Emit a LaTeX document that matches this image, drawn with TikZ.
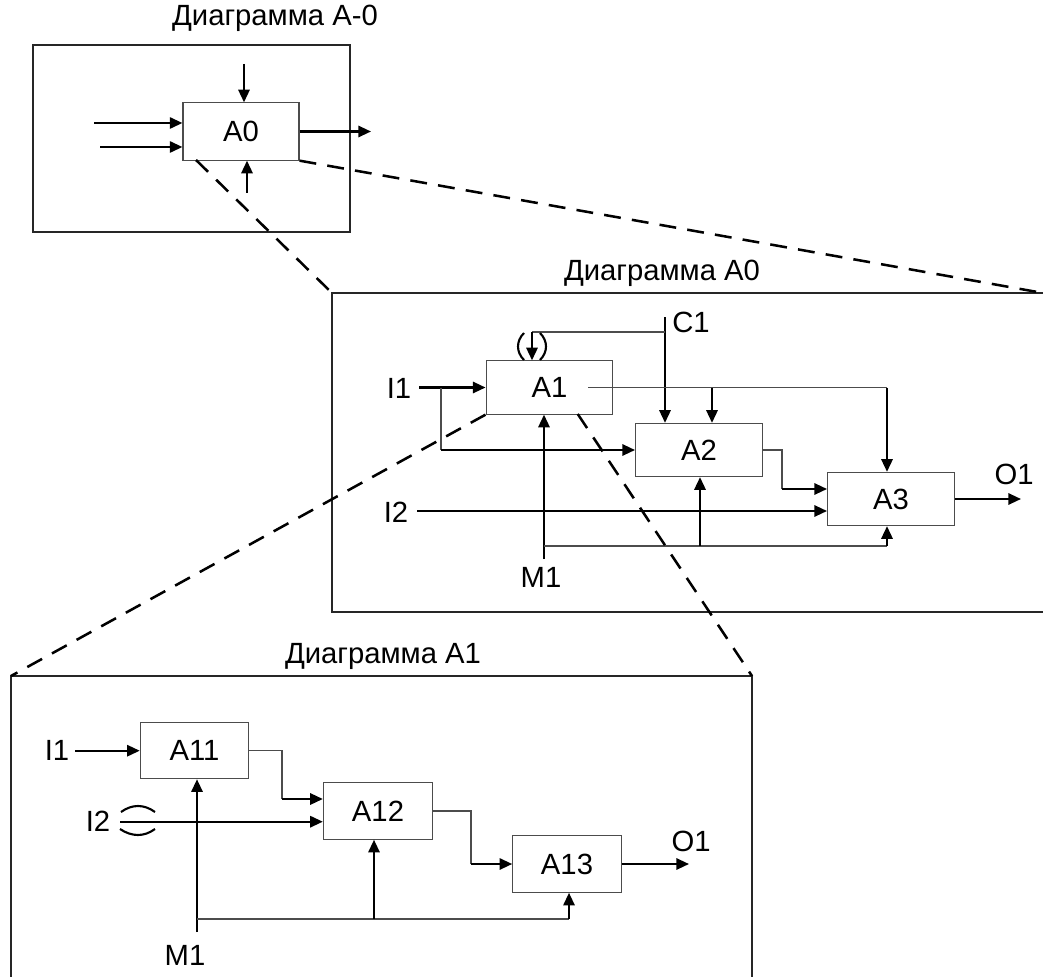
\documentclass[tikz,border=0pt]{standalone}
\usepackage{fontspec}
\setmainfont{Liberation Sans}
\usetikzlibrary{
  arrows.meta,
  positioning,
  calc
}

\tikzset{
  func/.style={draw=black!70, line width=0.8pt, fill=white, inner sep=0pt,
    minimum width=3.17cm, minimum height=1.33cm, font=\fontsize{20.8}{25}\selectfont},
  lbl/.style={font=\fontsize{20.8}{25}\selectfont, inner sep=0pt},
  frame/.style={draw=black!85, line width=1pt},
  thinline/.style={draw=black!70, line width=0.8pt},
  flow/.style={line width=1.6pt, -{Triangle[length=9pt,width=8pt]}},
  zoomline/.style={line width=1.8pt, dash pattern=on 12pt off 8pt},
  tunnel/.style={line width=1.5pt}
}

\begin{document}
\begin{tikzpicture}[x=0.025cm, y=-0.025cm]
    \useasboundingbox (0,0) rectangle (1043,977);

    % Рамки диаграмм
    \draw[frame] (33,45) rectangle (350,232);
    \draw[frame] (1043,293) -- (332,293) -- (332,612) -- (1043,612);
    \draw[frame] (11,977) -- (11,676) -- (752,676) -- (752,977);
    \node[lbl] (t0) at (275,18) {Диаграмма A-0};
    \node[lbl] (t1) at (662,273) {Диаграмма A0};
    \node[lbl] (t2) at (383,656) {Диаграмма A1};

    % Диаграмма A-0
    \node[func, minimum width=2.9cm, minimum height=1.43cm] (a0) at (241,131.5) {A0};
    \coordinate (a0in1) at (94,123);
    \coordinate (a0in2) at (100,147);
    \coordinate (a0ctl) at (244,64);
    \coordinate (a0mech) at (247,193);
    \coordinate (a0out) at (371,131.5);
    \draw[flow] (a0in1) -- (a0in1 -| a0.west);
    \draw[flow] (a0in2) -- (a0in2 -| a0.west);
    \draw[flow] (a0ctl) -- (a0ctl |- a0.north);
    \draw[flow] (a0mech) -- (a0mech |- a0.south);
    \draw[flow] (a0.east) -- (a0out);

    % Диаграмма A0
    \node[func] (a1) at (549.5,387.5) {A1};
    \node[func] (a2) at (699,450) {A2};
    \node[func] (a3) at (891,499) {A3};
    \node[lbl] (i1) at (399,388) {I1};
    \node[lbl] (i2) at (396,512) {I2};
    \node[lbl] (c1) at (691,322) {C1};
    \node[lbl] (m1) at (541,577.5) {M1};
    \node[lbl] (o1) at (1014,474) {O1};

    \coordinate (i1s) at (419,387.5);
    \coordinate (i1b) at (441,387.5);
    \draw[flow] (i1s) -- (a1.west);
    \draw[thinline] (i1b) -- (i1b |- a2.west);
    \draw[flow] (i1b |- a2.west) -- (a2.west);

    \coordinate (c1s) at (665,317);
    \coordinate (c1b) at (665,332);
    \coordinate (c1t) at (532,332);
    \draw[flow] (c1s) -- (c1s |- a2.north);
    \draw[thinline] (c1b) -- (c1t);
    \draw[flow] (c1t) -- (c1t |- a1.north);
    \draw[tunnel] (524,333) .. controls (516,341) and (516,352) .. (524,360);
    \draw[tunnel] (540,333) .. controls (548,341) and (548,352) .. (540,360);

    \coordinate (a1o) at (588,387.5);
    \coordinate (a1j) at (712,387.5);
    \coordinate (a1k) at (887,387.5);
    \draw[thinline] (a1o) -- (a1k);
    \draw[flow] (a1j) -- (a1j |- a2.north);
    \draw[flow] (a1k) -- (a1k |- a3.north);

    \coordinate (a2k) at (782,489);
    \draw[thinline] (a2.east) -| (a2k);
    \draw[flow] (a2k) -- (a2k -| a3.west);

    \coordinate (i2s) at (417,511);
    \draw[flow] (i2s) -- (i2s -| a3.west);

    \coordinate (m1s) at (544,559);
    \coordinate (m1b) at (544,546);
    \coordinate (m1j) at (700,546);
    \coordinate (m1k) at (887,546);
    \draw[flow] (m1s) -- (m1s |- a1.south);
    \draw[thinline] (m1b) -- (m1k);
    \draw[flow] (m1j) -- (m1j |- a2.south);
    \draw[flow] (m1k) -- (m1k |- a3.south);

    \coordinate (o1e) at (1021,499);
    \draw[flow] (a3.east) -- (o1e);

    % Диаграмма A1
    \node[func, minimum width=2.71cm, minimum height=1.4cm] (a11) at (194.5,750.7) {A11};
    \node[func, minimum width=2.73cm, minimum height=1.41cm] (a12) at (378,811) {A12};
    \node[func, minimum width=2.71cm, minimum height=1.41cm] (a13) at (567,864) {A13};
    \node[lbl] (j1) at (57,750) {I1};
    \node[lbl] (j2) at (98,821) {I2};
    \node[lbl] (n1) at (185,955) {M1};
    \node[lbl] (p1) at (691,841) {O1};

    \coordinate (j1s) at (75,750.7);
    \draw[flow] (j1s) -- (a11.west);

    \coordinate (a11k) at (282,799);
    \draw[thinline] (a11.east) -| (a11k);
    \draw[flow] (a11k) -- (a11k -| a12.west);

    \coordinate (j2s) at (120,821.7);
    \draw[flow] (j2s) -- (j2s -| a12.west);
    \draw[tunnel] (121,812) .. controls (132,804) and (144,804) .. (155,812);
    \draw[tunnel] (120,829) .. controls (132,837) and (144,837) .. (155,829);

    \coordinate (n1s) at (197,932);
    \coordinate (n1b) at (197,919);
    \coordinate (n1j) at (374,919);
    \coordinate (n1k) at (569,919);
    \draw[flow] (n1s) -- (n1s |- a11.south);
    \draw[thinline] (n1b) -- (n1k);
    \draw[flow] (n1j) -- (n1j |- a12.south);
    \draw[flow] (n1k) -- (n1k |- a13.south);

    \coordinate (a12k) at (471,864);
    \draw[thinline] (a12.east) -| (a12k);
    \draw[flow] (a12k) -- (a13.west);

    \coordinate (p1e) at (689,864);
    \draw[flow] (a13.east) -- (p1e);

    % Линии декомпозиции
    \draw[zoomline] (196,160) -- (332,293);
    \draw[zoomline] (a0.south east) -- (1043,293);
    \draw[zoomline] (a1.south west) -- (11,676);
    \draw[zoomline] (577.7,414) -- (752,676);
\end{tikzpicture}
\end{document}
